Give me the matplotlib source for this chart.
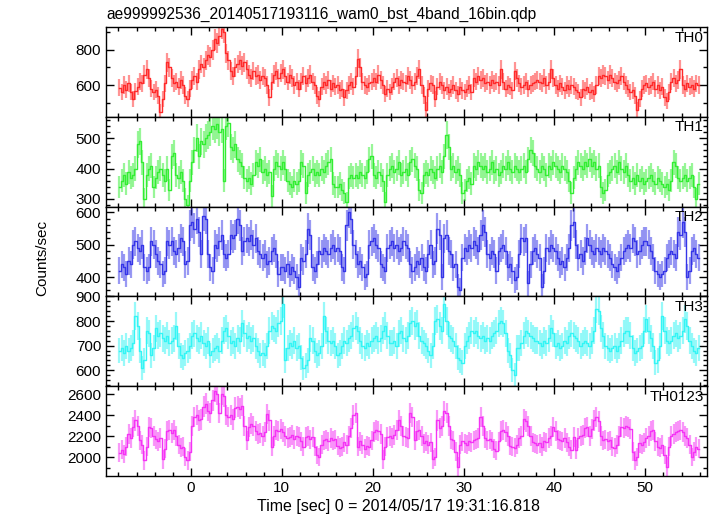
import numpy as np
import matplotlib
matplotlib.use("Agg")
import matplotlib.pyplot as plt
from matplotlib.ticker import MultipleLocator

plt.rcParams['font.family'] = ['Liberation Sans', 'DejaVu Sans']

# 0.25 s bins, start of curve at -7.875 s
t_start = -7.875
dt = 0.25

th0 = [585, 560, 600, 575, 610, 560, 520, 565,
       590, 620, 610, 660, 690, 640, 580, 560,
       575, 540, 450, 520, 610, 730, 700, 640,
       610, 620, 590, 630, 600, 540, 520, 580,
       630, 650, 620, 690, 720, 700, 740, 770,
       760, 800, 860, 840, 880, 920, 900, 780,
       740, 680, 650, 700, 720, 740, 710, 730,
       690, 660, 640, 680, 650, 660, 630, 650,
       640, 600, 530, 620, 660, 680, 640, 670,
       690, 650, 620, 660, 640, 600, 620, 580,
       620, 650, 610, 640, 660, 620, 600, 540,
       520, 590, 620, 600, 630, 580, 610, 590,
       600, 570, 580, 530, 570, 600, 620, 590,
       650, 750, 700, 620, 600, 590, 610, 620,
       640, 620, 660, 630, 600, 550, 580, 560,
       590, 620, 640, 600, 630, 620, 610, 650,
       630, 600, 620, 650, 690, 600, 540, 460,
       580, 610, 600, 520, 590, 620, 600, 570,
       590, 560, 580, 600, 570, 550, 590, 570,
       560, 580, 600, 560, 640, 620, 650, 630,
       640, 610, 620, 600, 630, 610, 620, 600,
       690, 620, 580, 600, 590, 570, 680, 640,
       610, 590, 600, 620, 580, 600, 610, 620,
       630, 620, 610, 640, 600, 620, 690, 640,
       600, 580, 610, 590, 570, 600, 580, 600,
       590, 570, 560, 530, 580, 570, 590, 560,
       570, 550, 600, 650, 640, 660, 650, 630,
       660, 640, 620, 610, 630, 650, 620, 600,
       580, 560, 570, 540, 460, 520, 580, 600,
       610, 590, 600, 620, 580, 600, 570, 590,
       530, 510, 560, 620, 640, 610, 630, 690,
       600, 580, 610, 590, 600, 580, 610, 600]

th1 = [340, 360, 380, 350, 390, 370, 380, 400,
       480, 490, 420, 300, 380, 400, 410, 340,
       370, 390, 400, 380, 360, 400, 330, 440,
       450, 380, 370, 390, 360, 300, 280, 360,
       420, 460, 500, 440, 490, 480, 500, 510,
       520, 540, 530, 545, 520, 530, 360, 540,
       550, 470, 460, 480, 430, 420, 410, 370,
       360, 370, 350, 380, 420, 410, 430, 390,
       400, 380, 390, 310, 400, 420, 410, 400,
       420, 400, 360, 350, 340, 360, 350, 360,
       420, 410, 320, 380, 390, 400, 380, 390,
       380, 400, 390, 410, 420, 430, 350, 340,
       340, 350, 330, 320, 290, 370, 380, 370,
       380, 370, 390, 380, 370, 390, 430, 440,
       380, 370, 390, 380, 360, 290, 380, 400,
       410, 390, 400, 420, 380, 390, 400, 380,
       420, 430, 410, 400, 330, 320, 380, 390,
       380, 400, 390, 370, 400, 410, 390, 440,
       510, 470, 400, 410, 390, 400, 380, 320,
       330, 360, 370, 350, 410, 400, 420, 410,
       400, 410, 390, 400, 420, 390, 400, 380,
       390, 410, 400, 420, 400, 390, 410, 400,
       390, 400, 410, 390, 430, 460, 450, 410,
       400, 390, 410, 400, 380, 410, 400, 420,
       410, 400, 390, 410, 400, 390, 360, 320,
       370, 400, 420, 410, 400, 420, 410, 430,
       410, 420, 400, 410, 340, 320, 330, 380,
       390, 400, 410, 390, 420, 400, 390, 410,
       380, 360, 370, 350, 380, 360, 370, 350,
       360, 370, 380, 360, 350, 370, 360, 350,
       340, 350, 330, 360, 420, 410, 370, 360,
       370, 380, 360, 370, 380, 340, 300, 350]

th2 = [420, 440, 430, 410, 450, 440, 500, 510,
       490, 480, 500, 430, 420, 430, 510, 500,
       470, 450, 440, 410, 420, 510, 500, 510,
       480, 470, 490, 520, 510, 440, 450, 560,
       570, 550, 580, 540, 470, 590, 580, 470,
       430, 420, 500, 490, 510, 530, 470, 460,
       470, 530, 520, 530, 580, 560, 480, 510,
       520, 510, 530, 500, 520, 480, 470, 460,
       470, 440, 450, 480, 490, 470, 410, 430,
       430, 420, 440, 410, 430, 420, 400, 370,
       460, 450, 470, 550, 530, 430, 420, 440,
       480, 470, 490, 480, 470, 490, 500, 480,
       490, 480, 430, 420, 560, 600, 580, 500,
       470, 440, 450, 430, 400, 410, 500, 510,
       520, 500, 490, 440, 430, 420, 490, 500,
       510, 490, 500, 480, 490, 510, 500, 490,
       440, 420, 430, 450, 440, 460, 430, 420,
       470, 500, 440, 450, 550, 530, 400, 520,
       530, 480, 470, 430, 440, 370, 360, 460,
       490, 480, 500, 490, 510, 500, 480, 530,
       560, 540, 470, 460, 480, 470, 420, 480,
       490, 500, 480, 430, 440, 420, 390, 400,
       470, 520, 510, 520, 380, 440, 480, 490,
       470, 460, 370, 420, 490, 480, 500, 490,
       480, 460, 440, 450, 430, 460, 490, 560,
       570, 500, 460, 470, 450, 480, 520, 500,
       480, 470, 490, 480, 470, 490, 480, 470,
       460, 440, 430, 420, 440, 460, 480, 490,
       500, 490, 520, 510, 470, 480, 500, 510,
       510, 500, 480, 460, 420, 410, 400, 410,
       420, 460, 470, 480, 470, 460, 540, 530,
       570, 540, 400, 420, 480, 490, 470, 460]

th3 = [680, 690, 670, 700, 680, 690, 710, 820,
       780, 680, 610, 640, 760, 750, 660, 690,
       770, 740, 750, 730, 720, 740, 710, 720,
       730, 780, 700, 660, 650, 670, 680, 700,
       740, 750, 730, 720, 740, 710, 700, 720,
       660, 680, 690, 700, 680, 720, 760, 770,
       740, 710, 720, 700, 730, 720, 790, 750,
       730, 740, 720, 730, 700, 680, 660, 670,
       660, 700, 760, 780, 770, 760, 790, 800,
       870, 640, 690, 710, 700, 720, 690, 700,
       650, 610, 620, 640, 730, 720, 680, 660,
       670, 700, 820, 760, 720, 710, 720, 700,
       660, 670, 700, 720, 710, 730, 740, 770,
       780, 760, 720, 700, 690, 710, 700, 720,
       730, 740, 720, 730, 760, 780, 740, 710,
       710, 720, 700, 750, 760, 730, 720, 740,
       790, 800, 780, 790, 740, 720, 710, 700,
       680, 660, 700, 800, 810, 780, 760, 870,
       800, 740, 730, 720, 700, 650, 640, 630,
       700, 720, 740, 760, 750, 760, 740, 730,
       740, 720, 730, 720, 740, 750, 760, 790,
       800, 790, 750, 680, 660, 600, 580, 690,
       690, 710, 740, 760, 750, 740, 730, 720,
       720, 710, 700, 720, 710, 730, 770, 750,
       700, 710, 690, 700, 720, 710, 740, 750,
       740, 730, 720, 700, 710, 720, 710, 700,
       720, 760, 850, 840, 770, 740, 700, 690,
       680, 690, 700, 680, 700, 720, 750, 760,
       760, 740, 690, 670, 680, 690, 700, 760,
       810, 760, 730, 700, 630, 640, 700, 820,
       760, 720, 710, 720, 740, 750, 730, 740,
       760, 810, 780, 720, 700, 680, 670, 690]

th0123 = [2040, 2070, 2030, 2100, 2220, 2180, 2290, 2350,
          2300, 2160, 2120, 1970, 2100, 2290, 2280, 2200,
          2170, 2150, 2180, 1980, 2080, 2250, 2260, 2230,
          2260, 2200, 2120, 2090, 2100, 2000, 1970, 2050,
          2300, 2380, 2400, 2350, 2360, 2480, 2510, 2440,
          2420, 2540, 2630, 2600, 2420, 2600, 2580, 2400,
          2380, 2400, 2360, 2470, 2480, 2460, 2490, 2300,
          2160, 2290, 2320, 2300, 2250, 2220, 2230, 2200,
          2240, 2410, 2350, 2100, 2200, 2260, 2250, 2270,
          2240, 2200, 2180, 2190, 2210, 2170, 2200, 2190,
          2150, 2100, 2190, 2200, 2170, 2190, 2100, 2020,
          2000, 2120, 2160, 2170, 2150, 2180, 2160, 2170,
          2110, 2090, 2100, 2140, 2120, 2200, 2280, 2400,
          2420, 2100, 2150, 2120, 2080, 2110, 2100, 2160,
          2240, 2260, 2250, 2220, 1980, 2100, 2190, 2200,
          2180, 2210, 2260, 2350, 2300, 2200, 2190, 2180,
          2420, 2380, 2160, 2250, 2260, 2200, 2130, 2150,
          2120, 2140, 1980, 2000, 2350, 2280, 2300, 2440,
          2420, 2300, 2170, 2160, 2050, 1910, 2120, 2150,
          2130, 2120, 2150, 2140, 2160, 2170, 2180, 2380,
          2300, 2180, 2160, 2170, 2150, 2080, 2060, 2150,
          2250, 2260, 2240, 2200, 2110, 2100, 2090, 2120,
          2180, 2200, 2360, 2340, 2300, 2200, 2140, 2130,
          2120, 2130, 2100, 2150, 2140, 2180, 2200, 2290,
          2250, 2170, 2160, 2150, 2180, 2140, 2100, 2070,
          2190, 2070, 2180, 2200, 2210, 2280, 2290, 2200,
          2270, 2350, 2380, 2340, 2200, 2160, 2170, 2150,
          2160, 2100, 2090, 2120, 2200, 2290, 2280, 2300,
          2290, 2270, 2050, 1970, 2000, 2130, 2120, 2140,
          2180, 2200, 2250, 2260, 2150, 2100, 2090, 2120,
          2020, 1910, 2100, 2200, 2220, 2240, 2250, 2260,
          2240, 2200, 2180, 2120, 2000, 2050, 2100, 2080]

series = [th0, th1, th2, th3, th0123]
names = ['TH0', 'TH1', 'TH2', 'TH3', 'TH0123']
colors = ['#ff2a2a', '#33ee33', '#3535e8', '#33f5f5', '#f533f5']
ylims = [(420, 930), (275, 570), (340, 618), (535, 900), (1820, 2676)]
majors = [200, 100, 100, 100, 200]
minors = [100, 20, 20, 20, 100]

W, H = 717, 516
fig = plt.figure(figsize=(W / 100, H / 100), dpi=100)

left, right = 106, 707
top, bottom = 27, 476
ph = (bottom - top) / 5

axes = []
for i, (vals, name, col) in enumerate(zip(series, names, colors)):
    y0 = top + i * ph
    ax = fig.add_axes([left / W, 1 - (y0 + ph) / H, (right - left) / W, ph / H])
    v = np.array(vals, dtype=float)
    t = t_start + dt * np.arange(len(v))
    err = np.sqrt(v * dt) / dt
    ax.errorbar(t, v, yerr=err, fmt='none', ecolor=col, elinewidth=1.6, alpha=0.5)
    ax.step(t, v, where='mid', color=col, lw=1.0)
    ax.set_xlim(-9.36, 56.8)
    ax.set_ylim(*ylims[i])
    ax.yaxis.set_major_locator(MultipleLocator(majors[i]))
    ax.yaxis.set_minor_locator(MultipleLocator(minors[i]))
    ax.xaxis.set_major_locator(MultipleLocator(10))
    ax.xaxis.set_minor_locator(MultipleLocator(2))
    ax.tick_params(which='both', direction='in', top=True, right=True, width=1)
    ax.tick_params(which='major', length=6, labelsize=11)
    ax.tick_params(which='minor', length=3)
    for s in ax.spines.values():
        s.set_linewidth(1)
    if i < 4:
        ax.tick_params(labelbottom=False)
    ax.text(0.995, 0.96, name, transform=ax.transAxes, ha='right', va='top', fontsize=11)
    axes.append(ax)

fig.text(left / W, 1 - 14 / H, 'ae999992536_20140517193116_wam0_bst_4band_16bin.qdp',
         ha='left', va='center', fontsize=11.2)
fig.text(42 / W, 1 - 258 / H, 'Counts/sec', rotation=90, ha='center', va='center', fontsize=11)
fig.text(399 / W, 1 - 507 / H, 'Time [sec] 0 = 2014/05/17 19:31:16.818',
         ha='center', va='center', fontsize=11.5)

fig.savefig('out.png', dpi=100)
